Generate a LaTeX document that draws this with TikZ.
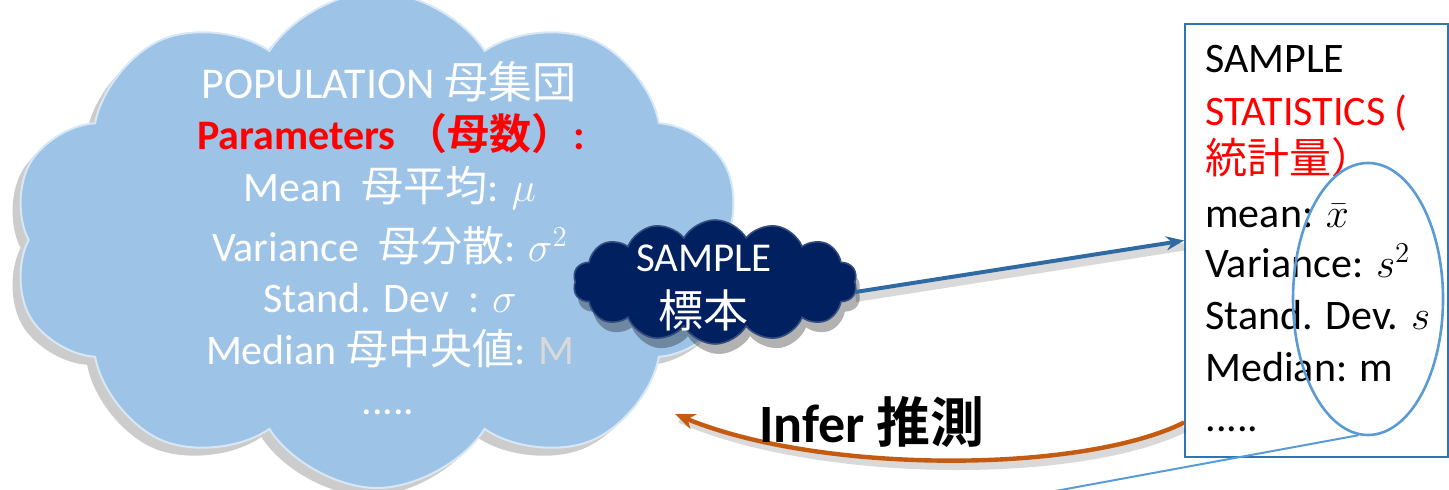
\documentclass[tikz,border=0pt]{standalone}
\usepackage{fontspec}
\setmainfont{Carlito}
\newfontfamily\jp[BoldFont={* Bold}]{Noto Sans CJK JP}
\usetikzlibrary{shapes.symbols,shapes.geometric,shadows,arrows.meta}
\definecolor{popblue}{HTML}{9DC3E6}
\definecolor{navy}{HTML}{002060}
\definecolor{boxblue}{HTML}{2E75B6}
\definecolor{ellblue}{HTML}{5B9BD5}
\definecolor{arrblue}{HTML}{2F6AA3}
\definecolor{infercol}{HTML}{C55A11}
\definecolor{lgray}{HTML}{D9D9D9}
\begin{document}
\begin{tikzpicture}[x=0.5pt,y=-0.5pt,
  poptext/.style={text=white, font=\fontsize{21}{25}\selectfont, anchor=base, inner sep=0pt},
  boxtext/.style={font=\fontsize{21}{25}\selectfont, anchor=base west, inner sep=0pt},
  sampletext/.style={text=white, anchor=base, inner sep=0pt},
  bluearrow/.style={draw=arrblue, line width=2pt, -{Stealth[length=9pt,width=7pt]}},
  inferarrow/.style={draw=infercol, line width=2.2pt, -{Stealth[length=10pt,width=8pt]}},
  shadowline/.style={draw=black, opacity=0.15, line width=4pt}]
\useasboundingbox (0,0) rectangle (1449,490);
% population cloud
\node[cloud, cloud puffs=10, cloud puff arc=115, fill=popblue, draw=white!60!popblue, line width=1pt,
      minimum width=365pt, minimum height=248pt, inner sep=0pt,
      drop shadow={shadow xshift=-4pt, shadow yshift=-4pt, opacity=0.2, fill=black}] (pop) at (377,240) {};
\node[poptext, font=\fontsize{22}{26}\selectfont] (p1) at (389,99) {POPULATION {\jp 母集団}};
\node[poptext, text=red, font=\fontsize{21}{25}\selectfont\bfseries] (p2) at (391,150) {Parameters {\jp （母数）}:};
\node[poptext] (p3) at (390,202) {Mean\ \ {\jp 母平均}: $\mu$};
\node[poptext] (p4) at (390,262) {Variance\ \ {\jp 母分散}: $\sigma^2$};
\node[poptext] (p5) at (390,313) {Stand. Dev\ \ : $\sigma$};
\node[poptext] (p6) at (390,365) {Median {\jp 母中央値}: \textcolor{lgray}{M}};
\node[poptext] (p7) at (388,415) {.....};
% sample cloud
\node[cloud, cloud puffs=14, cloud puff arc=120, fill=navy, draw=navy!80!white, line width=0.8pt,
      minimum width=142pt, minimum height=62pt, inner sep=0pt,
      drop shadow={shadow xshift=2pt, shadow yshift=-5pt, opacity=0.3, fill=black}] (sample) at (715,282) {};
\node[sampletext, font=\fontsize{20.5}{24}\selectfont] (s1) at (704,272) {SAMPLE};
\node[sampletext, font=\fontsize{22.5}{26}\selectfont\jp] (s2) at (703,328) {標本};
% statistics box
\node[draw=boxblue, line width=0.9pt, fill=white, minimum width=131.5pt, minimum height=216.5pt, inner sep=0pt] (box) at (1316.5,240.5) {};
\node[boxtext] (b1) at (1205,73) {SAMPLE};
\node[boxtext, text=red] (b2) at (1205,126) {STATISTICS (};
\node[boxtext, text=red, text depth=0pt, font=\fontsize{21}{25}\selectfont\jp] (b3) at (1205,174) {統計量）};
\node[boxtext, text height=14pt] (b4) at (1205,228) {mean: $\bar{x}$};
\node[boxtext] (b5) at (1205,278) {Variance: $s^2$};
\node[boxtext] (b6) at (1205,330) {Stand. Dev. $s$};
\node[boxtext] (b7) at (1205,382) {Median: m};
\node[boxtext] (b8) at (1205,432) {.....};
% ellipse callout
\node[ellipse, draw=ellblue, line width=1.3pt, minimum width=75pt, minimum height=136pt, inner sep=0pt] (ell) at (1368,299) {};
\coordinate (tailend) at (1050,492);
\draw[ellblue, line width=1pt] (ell.-94) -- (tailend);
% arrows
\draw[shadowline] ([yshift=-8pt]sample.east) -- ([yshift=-3pt]box.west);
\draw[bluearrow] ([yshift=-5pt]sample.east) -- (box.west);
\coordinate (infertip) at (675,414);
\draw[shadowline] ([yshift=-94pt]box.west) .. controls (1080,480) and (820,480) .. (680,419);
\draw[inferarrow] ([yshift=-91pt]box.west) .. controls (1080,474) and (820,474) .. (infertip);
\node[anchor=base, inner sep=0pt, font=\fontsize{27}{32}\selectfont\bfseries] (infer) at (872,443) {Infer {\jp\bfseries 推測}};
\end{tikzpicture}
\end{document}
